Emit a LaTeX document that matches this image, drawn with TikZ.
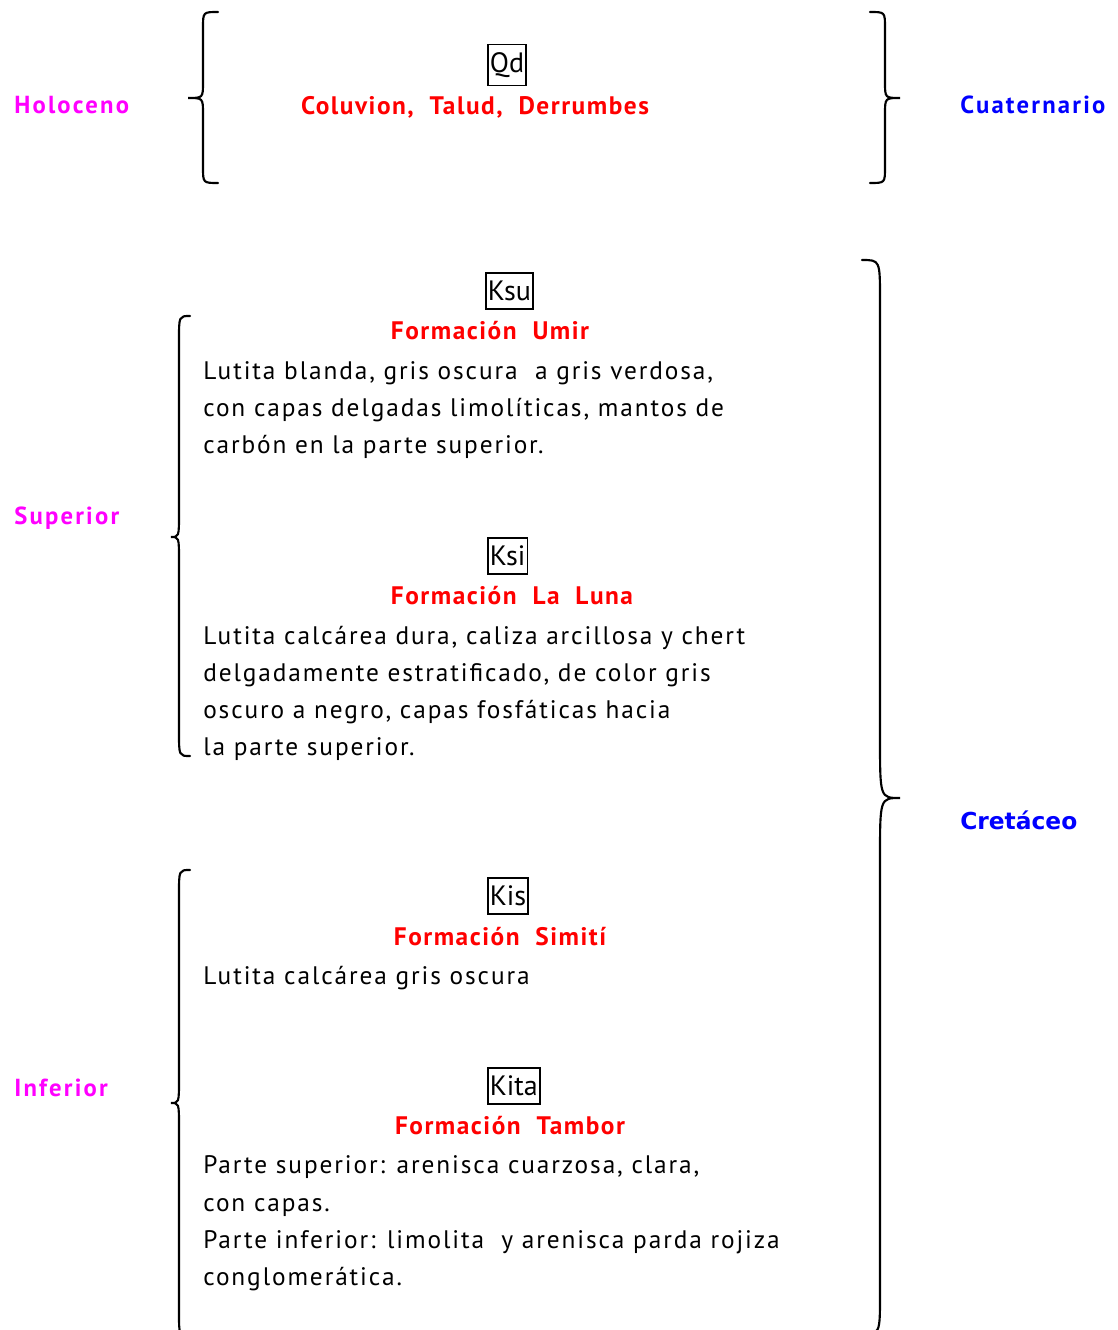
\documentclass[tikz,border=0pt]{standalone}
\usepackage{fontspec}
\setmainfont{PT Sans}
\newfontfamily\bodyfont[LetterSpace=7.5]{PT Sans}
\newfontfamily\titlefont[LetterSpace=6]{PT Sans}
\newfontfamily\lblfont[LetterSpace=9]{PT Sans}
\newfontfamily\crefont{DejaVu Sans}
\definecolor{magen}{RGB}{255,0,255}
\definecolor{rojo}{RGB}{255,0,0}
\definecolor{azul}{RGB}{0,0,255}
\newcommand\bracedraw[8]{%
  \draw[bracestyle] (#1,#4) .. controls (#2,#4) .. (#2,{#4+#7}) -- (#2,{#5-#8})
    .. controls (#2,#5) .. (#3,#5) .. controls (#2,#5) .. (#2,{#5+#8})
    -- (#2,{#6-#7}) .. controls (#2,#6) .. (#1,#6);}
\begin{document}
\begin{tikzpicture}[x=0.75pt,y=-0.75pt,
  bracestyle/.style={line width=1.6pt,line cap=round},
  bodytxt/.style={anchor=base west,inner sep=0pt,font=\bodyfont\fontsize{19}{23}\selectfont},
  titletxt/.style={inner sep=0pt,text=rojo,font=\titlefont\fontsize{19}{23}\selectfont\bfseries},
  agelbl/.style={anchor=west,inner sep=0pt,text=magen,font=\lblfont\fontsize{18.5}{22}\selectfont\bfseries},
  perlbl/.style={anchor=west,inner sep=0pt,text=azul,font=\lblfont\fontsize{18.5}{22}\selectfont\bfseries},
  codebox/.style={draw,line width=1.3pt,anchor=west,inner xsep=1.5pt,inner ysep=6pt,font=\fontsize{21}{25}\selectfont}]
\useasboundingbox (0,0) rectangle (1117,1330);
% top group
\node[agelbl] (holo) at (14,105) {Holoceno};
\node[perlbl] (cuat) at (960,105) {Cuaternario};
\bracedraw{218}{203}{188}{12}{98}{183}{16}{16}
\bracedraw{870}{885}{900}{12}{98}{183}{16}{16}
\node[codebox] (qd) at (487,65) {Qd};
\node[titletxt] (colu) at (475,107) {Coluvion,\ \ Talud,\ \ Derrumbes};
% Superior
\node[agelbl] (sup) at (14,518) {Superior};
\bracedraw{190}{179}{171}{316}{537}{756}{24}{24}
\node[codebox] (ksu) at (485,291) {Ksu};
\node[titletxt] (umir) at (490,331) {Formación\ \ Umir};
\node[bodytxt] (u1) at (203,379) {Lutita blanda, gris oscura\ \ a gris verdosa,};
\node[bodytxt] (u2) at (203,416) {con capas delgadas limolíticas, mantos de};
\node[bodytxt] (u3) at (203,453) {carbón en la parte superior.};
\node[codebox] (ksi) at (487,556) {Ksi};
\node[titletxt] (luna) at (512,596) {Formación\ \ La\ \ Luna};
\node[bodytxt] (l1) at (203,644) {Lutita calcárea dura, caliza arcillosa y chert};
\node[bodytxt] (l2) at (203,681) {delgadamente estratificado, de color gris};
\node[bodytxt] (l3) at (203,718) {oscuro a negro, capas fosfáticas hacia};
\node[bodytxt] (l4) at (203,755) {la parte superior.};
% Inferior
\node[agelbl] (inf) at (14,1088) {Inferior};
\bracedraw{190}{179}{171}{870}{1103}{1336}{24}{24}
\node[codebox] (kis) at (487,896) {Kis};
\node[titletxt] (simi) at (500,937) {Formación\ \ Simití};
\node[bodytxt] (s1) at (203,984) {Lutita calcárea gris oscura};
\node[codebox] (kita) at (487,1086) {Kita};
\node[titletxt] (tamb) at (510,1126) {Formación\ \ Tambor};
\node[bodytxt] (t1) at (203,1173) {Parte superior: arenisca cuarzosa, clara,};
\node[bodytxt] (t2) at (203,1211) {con capas.};
\node[bodytxt] (t3) at (203,1248) {Parte inferior: limolita\ \ y arenisca parda rojiza};
\node[bodytxt] (t4) at (203,1285) {conglomerática.};
% Cretaceo
\bracedraw{862}{880}{900}{260}{798}{1334}{40}{60}
\node[perlbl,font=\crefont\fontsize{17.5}{21}\selectfont\bfseries] (cret) at (960,820) {Cretáceo};
\end{tikzpicture}
\end{document}
